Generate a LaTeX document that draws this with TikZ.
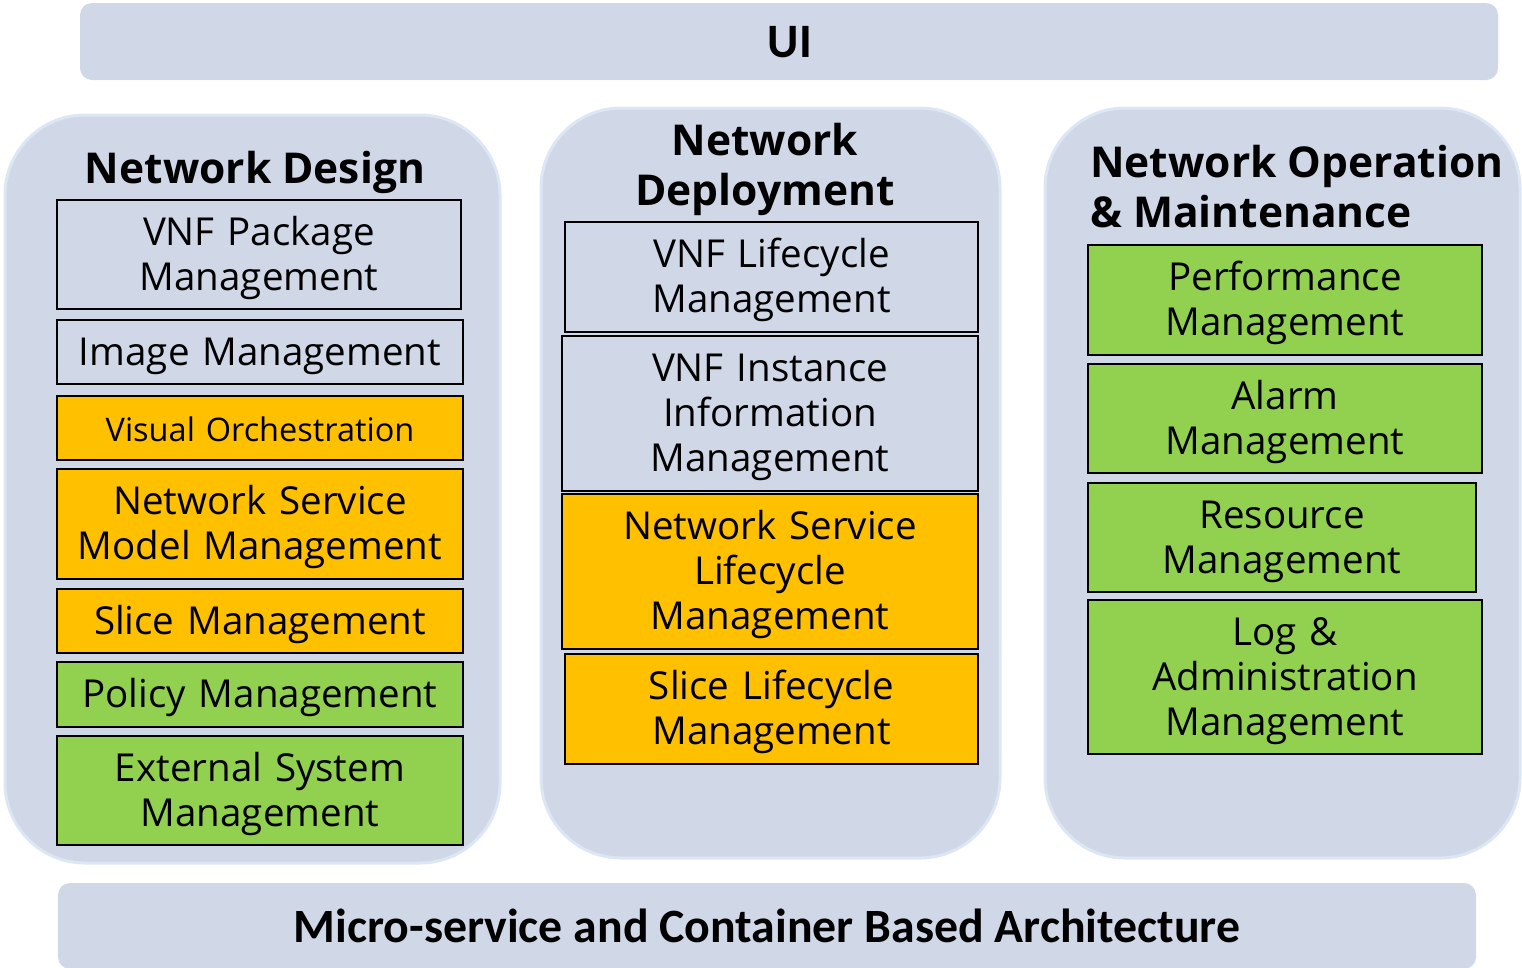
\documentclass[tikz,border=0pt]{standalone}
\usepackage{fontspec}
\setmainfont{Open Sans}
\newfontfamily\barfont{Carlito}
\definecolor{panelfill}{RGB}{208,216,232}
\definecolor{paneledge}{RGB}{221,230,244}
\definecolor{modorange}{RGB}{255,192,0}
\definecolor{modgreen}{RGB}{146,208,80}
\begin{document}
\begin{tikzpicture}[x=1pt,y=-1pt,
  panel/.style={fill=panelfill, draw=paneledge, line width=3pt, rounded corners=80pt, inner sep=0pt},
  bar/.style={fill=panelfill, rounded corners=12pt, inner sep=0pt},
  bartext/.style={font=\barfont\bfseries\fontsize{48}{56}\selectfont, inner sep=0pt},
  title/.style={font=\bfseries\fontsize{42.5}{50}\selectfont, inner sep=0pt, align=center},
  % struts give every module label the same top and bottom extent,
  % so the lines sit at the same place whatever their letters
  module/.style={draw=black, line width=2pt, align=center, inner sep=0pt,
    text width=380pt,
    font=\fontsize{38.5}{45}\selectfont,
    execute at begin node={\rule{0pt}{36pt}},
    execute at end node={\rule[-10pt]{0pt}{0pt}}},
  plain/.style={module, fill=panelfill},
  orange/.style={module, fill=modorange},
  green/.style={module, fill=modgreen}
]
\useasboundingbox (0,0) rectangle (1522,967);

% top and bottom bars
\node[bar, minimum width=1418pt, minimum height=77pt] (ui) at (789,41.5) {};
\node[bartext, anchor=base] (uilabel) at (790,57) {UI};
\node[bar, minimum width=1418pt, minimum height=86pt] (base) at (767,926) {};
\node[bartext, font=\barfont\bfseries\fontsize{47.8}{56}\selectfont, anchor=base] (baselabel) at (767,942)
  {Micro-service and Container Based Architecture};

% three column panels
\node[panel, minimum width=495pt, minimum height=748pt] (design) at (252.5,489) {};
\node[panel, minimum width=459pt, minimum height=750pt] (deploy) at (770.5,483) {};
\node[panel, minimum width=475pt, minimum height=750pt] (operate) at (1282.5,483) {};

% column titles
\node[title, anchor=base] (designtitle) at (255,183) {Network Design};
\node[title] (deploytitle) at (765,169) {Network\\Deployment};
\node[title, align=left, anchor=west] (operatetitle) at (1090,187) {Network Operation\\\& Maintenance};

% Network Design modules
\node[plain, minimum width=404pt, minimum height=109pt] (vnfpkg) at (259,254.5) {VNF Package\\Management};
\node[plain, minimum width=406pt, minimum height=64pt] (image) at (260,352) {Image Management};
\node[orange, minimum width=406pt, minimum height=64pt, font=\fontsize{32.5}{38}\selectfont] (visual) at (260,428) {Visual Orchestration};
\node[orange, minimum width=406pt, minimum height=110pt] (nsmodel) at (260,524) {Network Service\\Model Management};
\node[orange, minimum width=406pt, minimum height=64pt] (slice) at (260,621) {Slice Management};
\node[green, minimum width=406pt, minimum height=65pt] (policy) at (260,694.5) {Policy Management};
\node[green, minimum width=406pt, minimum height=109pt] (external) at (260,790.5) {External System\\Management};

% Network Deployment modules
\node[plain, minimum width=413pt, minimum height=110pt] (vnflcm) at (771.5,277) {VNF Lifecycle\\Management};
\node[plain, minimum width=416pt, minimum height=155pt] (vnfinst) at (770,413.5) {VNF Instance\\Information\\Management};
\node[orange, minimum width=416pt, minimum height=155pt] (nslcm) at (770,571.5) {Network Service\\Lifecycle\\Management};
\node[orange, minimum width=413pt, minimum height=110pt] (slicelcm) at (771.5,709) {Slice Lifecycle\\Management};

% Network Operation & Maintenance modules
\node[green, minimum width=394pt, minimum height=110pt] (perf) at (1285,300) {Performance\\Management};
\node[green, minimum width=394pt, minimum height=109pt] (alarm) at (1285,418.5) {Alarm\\Management};
\node[green, minimum width=388pt, minimum height=109pt] (resource) at (1282,537.5) {Resource\\Management};
\node[green, minimum width=394pt, minimum height=154pt] (log) at (1285,677) {Log \&\\Administration\\Management};
\end{tikzpicture}
\end{document}
